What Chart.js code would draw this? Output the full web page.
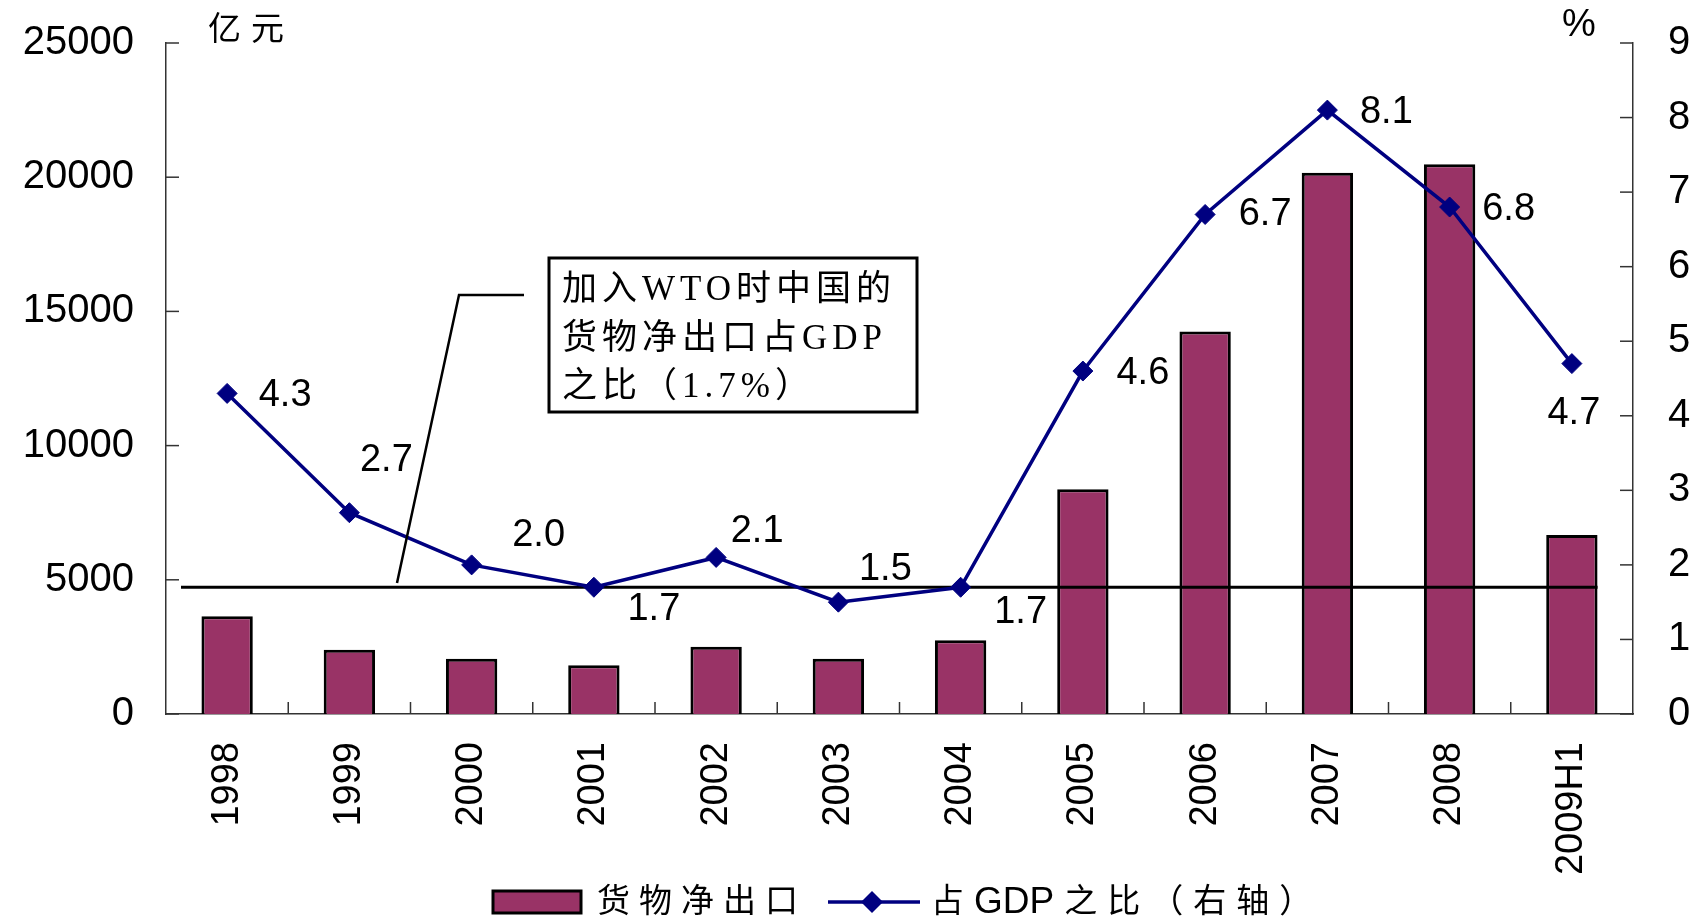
<!DOCTYPE html>
<html>
<head>
<meta charset="utf-8">
<script src="https://cdn.jsdelivr.net/npm/chart.js@4.4.0/dist/chart.umd.min.js"></script>
<style>
  html, body { margin: 0; padding: 0; background: #fff; }
  #wrap { width: 1702px; height: 921px; }
</style>
</head>
<body>
<div id="wrap"><canvas id="saldoChart" width="1702" height="921"></canvas></div>
<script>
// dados
var categorias = ['1998', '1999', '2000', '2001', '2002', '2003', '2004', '2005', '2006', '2007', '2008', '2009H1'];
var exportLiquida = [3640, 2390, 2060, 1820, 2510, 2060, 2750, 8370, 14250, 20170, 20480, 6670]; // 亿元
var participacaoPib = [4.3, 2.7, 2.0, 1.7, 2.1, 1.5, 1.7, 4.6, 6.7, 8.1, 6.8, 4.7]; // %
var eixoEsqMax = 25000, eixoEsqPasso = 5000;
var eixoDirMax = 9, eixoDirPasso = 1;
var razaoOmc = 1.7; // nivel na entrada na OMC
var nomesSeries = ['货物净出口', '占GDP之比（右轴）'];
var unidades = ['亿元', '%'];
var textoNota = ['加入WTO时中国的', '货物净出口占GDP', '之比（1.7%）'];

// deslocamento de cada rotulo em relacao ao ponto (px)
var deslocRotulos = [[58, 0], [37, -54], [67, -31], [60, 20], [41, -28], [47, -35],
                     [60, 23], [60, 0], [60, -2], [59, 0], [59, 0], [2, 48]];

var corBarra = '#993366';
var corLinha = '#000080';
var familiaNum = '"Liberation Sans", Arial, sans-serif';
var fonteNum = '38px ' + familiaNum;
var fonteCjk = '33px "Liberation Sans", "Noto Sans CJK SC", sans-serif';

function linha(ctx, pts, largura, cor) {
    ctx.save();
    ctx.strokeStyle = cor;
    ctx.lineWidth = largura;
    ctx.beginPath();
    ctx.moveTo(pts[0][0], pts[0][1]);
    for (var i = 1; i < pts.length; i++) ctx.lineTo(pts[i][0], pts[i][1]);
    ctx.stroke();
    ctx.restore();
}

function losango(ctx, x, y, r, cor) {
    ctx.save();
    ctx.fillStyle = cor;
    ctx.beginPath();
    ctx.moveTo(x, y - r);
    ctx.lineTo(x + r, y);
    ctx.lineTo(x, y + r);
    ctx.lineTo(x - r, y);
    ctx.closePath();
    ctx.fill();
    ctx.restore();
}

// texto misto: caracteres CJK espacados, trechos latinos em Arial maior
function textoMisto(ctx, texto, x, y, espaco) {
    var partes = texto.match(/[A-Za-z0-9.%]+|[^A-Za-z0-9.%]+/g);
    partes.forEach(function (p) {
        var latino = /^[A-Za-z0-9.%]+$/.test(p);
        ctx.font = latino ? '37px ' + familiaNum : fonteCjk;
        ctx.letterSpacing = latino ? '0px' : espaco + 'px';
        ctx.fillText(p, x, y);
        x += ctx.measureText(p).width;
        if (latino) x += espaco;
    });
}

function semPaddingVertical(s) {
    s.paddingTop = 0;
    s.paddingBottom = 0;
}

var extras = {
    id: 'extras',
    afterDatasetDraw: function (chart, args) {
        // linha de referencia por cima das barras, antes da serie de linha
        if (args.index !== 1) return;
        var ctx = chart.ctx;
        var y1 = chart.scales.y1;
        var meta = chart.getDatasetMeta(1);
        var ultima = meta.data[meta.data.length - 1];
        var yRef = y1.getPixelForValue(razaoOmc);
        linha(ctx, [[chart.chartArea.left + 15, yRef], [ultima.x + ultima.width / 2, yRef]], 3, '#000');
    },
    afterDraw: function (chart) {
        var ctx = chart.ctx;
        var area = chart.chartArea;
        var sy = chart.scales.y, sy1 = chart.scales.y1;

        // marcas dos eixos para dentro
        sy.ticks.forEach(function (t) {
            var y = sy.getPixelForValue(t.value);
            linha(ctx, [[area.left, y], [area.left + 13, y]], 1.5, '#333');
        });
        sy1.ticks.forEach(function (t) {
            var y = sy1.getPixelForValue(t.value);
            linha(ctx, [[area.right - 13, y], [area.right, y]], 1.5, '#333');
        });
        var passo = (area.right - area.left) / categorias.length;
        for (var i = 1; i < categorias.length; i++) {
            var x = area.left + i * passo;
            linha(ctx, [[x, area.bottom], [x, area.bottom - 12]], 1.5, '#333');
        }

        // rotulos da serie de linha
        var meta = chart.getDatasetMeta(0);
        ctx.save();
        ctx.font = fonteNum;
        ctx.fillStyle = '#000';
        ctx.textAlign = 'center';
        ctx.textBaseline = 'middle';
        meta.data.forEach(function (p, i) {
            ctx.fillText(participacaoPib[i].toFixed(1), p.x + deslocRotulos[i][0], p.y + deslocRotulos[i][1] + 2);
        });
        ctx.restore();

        // unidades dos eixos
        ctx.save();
        ctx.fillStyle = '#000';
        ctx.textBaseline = 'middle';
        ctx.font = fonteCjk;
        ctx.letterSpacing = '10px';
        ctx.textAlign = 'left';
        ctx.fillText(unidades[0], 208, 31);
        ctx.letterSpacing = '0px';
        ctx.font = fonteNum;
        ctx.fillText(unidades[1], 1562, 26);
        ctx.restore();

        // nota sobre a OMC
        linha(ctx, [[397, 583], [459, 295], [524, 295]], 2.5, '#000');
        ctx.save();
        ctx.fillStyle = '#fff';
        ctx.fillRect(549, 258, 368, 154);
        ctx.strokeStyle = '#000';
        ctx.lineWidth = 3;
        ctx.strokeRect(549, 258, 368, 154);
        ctx.fillStyle = '#000';
        ctx.font = '35px "Liberation Serif", "Noto Sans CJK SC", serif';
        ctx.letterSpacing = '5px';
        ctx.textBaseline = 'middle';
        textoNota.forEach(function (t, i) {
            ctx.fillText(t, 562, 291 + i * 48.5);
        });
        ctx.restore();

        // legenda
        ctx.save();
        ctx.fillStyle = corBarra;
        ctx.fillRect(493, 891, 88, 22);
        ctx.strokeStyle = '#000';
        ctx.lineWidth = 3;
        ctx.strokeRect(493, 891, 88, 22);
        ctx.fillStyle = '#000';
        ctx.textBaseline = 'middle';
        textoMisto(ctx, nomesSeries[0], 597, 903, 9);
        linha(ctx, [[828, 902], [920, 902]], 3.5, corLinha);
        losango(ctx, 872, 902, 11, corLinha);
        textoMisto(ctx, nomesSeries[1], 931, 903, 10);
        ctx.restore();
    }
};

function rotuloSimples(v) { return String(v); }

function iniciarGrafico() {
    var ctx = document.getElementById('saldoChart').getContext('2d');
    var grafico = new Chart(ctx, {
        type: 'bar',
        data: {
            labels: categorias,
            datasets: [{
                type: 'line',
                label: nomesSeries[1],
                data: participacaoPib,
                yAxisID: 'y1',
                order: 1,
                borderColor: corLinha,
                borderWidth: 3.5,
                backgroundColor: corLinha,
                pointStyle: 'rectRot',
                pointRadius: 10,
                pointBackgroundColor: corLinha,
                pointBorderColor: corLinha,
                pointBorderWidth: 1,
                tension: 0
            }, {
                type: 'bar',
                label: nomesSeries[0],
                data: exportLiquida,
                yAxisID: 'y',
                order: 2,
                backgroundColor: corBarra,
                borderColor: '#000',
                borderWidth: 3,
                barPercentage: 0.42,
                categoryPercentage: 1
            }]
        },
        plugins: [extras],
        options: {
            responsive: false,
            devicePixelRatio: 1,
            animation: false,
            layout: { padding: { top: 43, left: 0, right: 0, bottom: 0 } },
            plugins: {
                legend: { display: false },
                tooltip: { enabled: false }
            },
            scales: {
                x: {
                    grid: { display: false, drawTicks: false },
                    border: { display: true, color: '#333', width: 1.5 },
                    ticks: {
                        color: '#000',
                        font: { family: familiaNum, size: 38 },
                        minRotation: 90,
                        maxRotation: 90,
                        padding: 28,
                        autoSkip: false
                    },
                    afterFit: function (s) { s.height = 207; }
                },
                y: {
                    position: 'left',
                    min: 0,
                    max: eixoEsqMax,
                    grid: { display: false, drawTicks: false },
                    border: { display: true, color: '#333', width: 1.5 },
                    ticks: {
                        stepSize: eixoEsqPasso,
                        color: '#000',
                        padding: 32,
                        callback: rotuloSimples,
                        font: { family: familiaNum, size: 40 }
                    },
                    afterFit: function (s) { s.width = 166; semPaddingVertical(s); }
                },
                y1: {
                    position: 'right',
                    min: 0,
                    max: eixoDirMax,
                    grid: { display: false, drawTicks: false },
                    border: { display: true, color: '#333', width: 1.5 },
                    ticks: {
                        stepSize: eixoDirPasso,
                        color: '#000',
                        padding: 35,
                        callback: rotuloSimples,
                        font: { family: familiaNum, size: 40 }
                    },
                    afterFit: function (s) { s.width = 69; semPaddingVertical(s); }
                }
            }
        }
    });
}

iniciarGrafico();
</script>
</body>
</html>
